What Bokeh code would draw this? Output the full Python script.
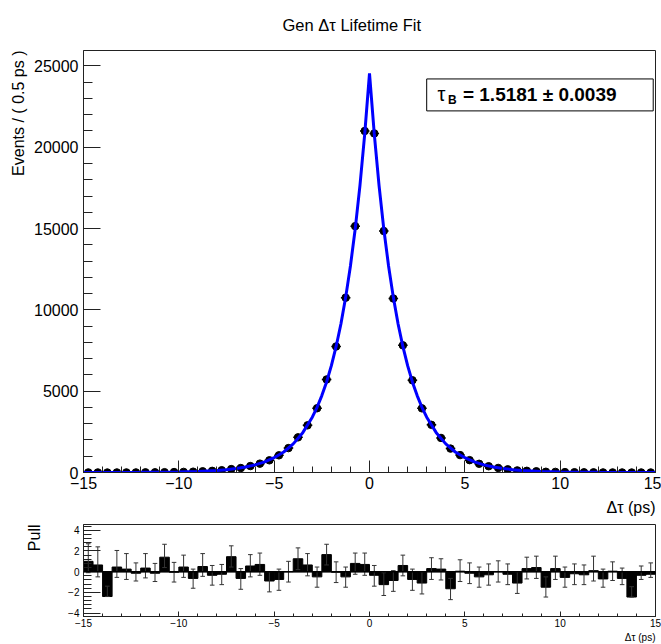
import numpy as np
from bokeh.plotting import figure
from bokeh.layouts import column
from bokeh.models import FixedTicker, Range1d, Label, BoxAnnotation, Span, Title
from bokeh.embed import file_html
from bokeh.resources import INLINE

# ---------------- data ----------------
bin_lo, bin_hi, n_bins = -15.0, 15.0, 60

counts = [3, 2, 0, 3, 5, 5, 9, 12, 19, 26, 38, 50, 74, 100, 140, 210, 275, 395, 545, 750,
          1055, 1500, 2160, 2900, 3950, 5720, 7750, 10750, 15150, 21000,
          20850, 14850, 10700, 7820, 5670, 3945, 2930, 2125, 1470, 1070, 760, 535, 385, 280, 195,
          128, 103, 75, 45, 38, 24, 17, 12, 9, 5, 4, 2, 0, 2, 1]

curve_x = [-15, -14, -13, -12, -11, -10, -9, -8, -7.5, -7, -6.5, -6, -5.5, -5, -4.5, -4, -3.5,
           -3, -2.75, -2.5, -2.25, -2, -1.75, -1.5, -1.25, -1, -0.75, -0.5, -0.25, 0,
           0.25, 0.5, 0.75, 1, 1.25, 1.5, 1.75, 2, 2.25, 2.5, 2.75, 3, 3.5, 4, 4.5, 5,
           5.5, 6, 6.5, 7, 7.5, 8, 9, 10, 11, 12, 13, 14, 15]
curve_y = [1.2, 2.4, 4.7, 9, 17, 34, 65, 126, 175, 245, 340, 470, 655, 910, 1260, 1760, 2450,
           3400, 4010, 4730, 5570, 6570, 7750, 9130, 10770, 12700, 14970, 17660, 20820, 24550,
           20820, 17660, 14970, 12700, 10770, 9130, 7750, 6570, 5570, 4730, 4010, 3400, 2450, 1760, 1260, 910,
           655, 470, 340, 245, 175, 126, 65, 34, 17, 9, 4.7, 2.4, 1.2]

pulls = [1.0, 0.65, -2.4, 0.45, 0.25, -0.15, 0.35, -0.15, 1.4, -0.05,
         0.45, -0.65, 0.5, -0.35, -0.25, 1.45, -0.65, 0.55, 0.7, -0.9,
         -0.75, 0.0, 1.25, 0.65, -0.5, 1.65, -0.05, -0.5, 0.8, 0.7,
         -0.35, -1.25, -0.85, 0.6, -0.75, -1.1, 0.3, 0.25, -1.65, 0.05,
         -0.15, -0.5, -0.3, 0.0, -0.25, -1.1, 0.3, 0.4, -1.5, 0.3,
         -0.55, -0.2, -0.3, 0.1, -0.7, 0.05, -0.65, -2.45, -0.35, -0.25]
pull_err_hi = [1.7, 1.75, 1.0, 1.6, 1.5, 1.0, 1.4, 0.95, 1.25, 0.95,
               1.15, 0.9, 1.25, 0.95, 0.95, 1.05, 0.95, 1.1, 1.1, 0.9,
               1.0, 1.0, 1.05, 1.1, 0.95, 1.0, 1.0, 0.95, 1.0, 1.1,
               0.95, 1.15, 0.95, 1.0, 1.0, 1.1, 1.05, 1.0, 1.0, 1.1,
               1.0, 0.95, 1.05, 1.05, 1.0, 1.1, 1.1, 1.1, 1.0, 1.2,
               1.0, 0.95, 0.95, 1.4, 0.95, 0.9, 1.0, 1.0, 0.9, 1.1]
pull_err_lo = [1.1, 1.15, 0.0, 1.0, 1.0, 0.75, 0.95, 0.8, 1.0, 0.95,
               1.0, 0.95, 0.95, 0.95, 1.0, 1.0, 1.05, 1.05, 1.05, 1.05,
               1.05, 1.0, 1.05, 1.05, 1.0, 1.0, 1.0, 1.0, 1.05, 1.05,
               1.05, 1.05, 1.05, 1.0, 1.05, 1.05, 1.05, 1.05, 1.05, 1.0,
               1.0, 1.0, 1.0, 1.0, 1.0, 1.0, 1.0, 1.05, 0.95, 1.05,
               0.95, 1.05, 0.95, 1.0, 0.8, 0.9, 0.6, 0.0, 0.4, 0.3]

x_ticks = [-15, -10, -5, 0, 5, 10, 15]
y_ticks_top = [0, 5000, 10000, 15000, 20000, 25000]
y_ticks_pull = [-4, -2, 0, 2, 4]

# ---------------- derived ----------------
edges = np.linspace(bin_lo, bin_hi, n_bins + 1)
centers = 0.5 * (edges[:-1] + edges[1:])
half = 0.5 * (edges[1] - edges[0])
cnt = np.array(counts, dtype=float)
err = np.sqrt(cnt)
pl = np.array(pulls)
phi = np.array(pull_err_hi)
plo = np.array(pull_err_lo)

FONT = "Liberation Sans"
AX = "#222222"


def minus_overrides(ticks):
    d = {}
    for t in ticks:
        if t < 0:
            d[t] = "\u2212" + str(abs(t))
    return d


def style_axis(ax, ticks, minors, size, tin, tmin):
    ax.ticker = FixedTicker(ticks=ticks, minor_ticks=minors)
    ax.major_label_overrides = minus_overrides(ticks)
    ax.major_label_text_font = FONT
    ax.major_label_text_font_size = size
    ax.major_label_text_color = "black"
    ax.axis_line_color = AX
    ax.major_tick_line_color = AX
    ax.minor_tick_line_color = AX
    ax.major_tick_in = tin
    ax.major_tick_out = 0
    ax.minor_tick_in = tmin
    ax.minor_tick_out = 0


def text_title(text, size, align="right", standoff=10):
    return Title(text=text, align=align, text_font=FONT, text_font_style="normal",
                 text_font_size=size, text_color="black", standoff=standoff)


# ---------------- top panel ----------------
p = figure(width=661, height=520, x_range=Range1d(bin_lo, bin_hi), y_range=Range1d(0, 25950),
           output_backend="svg", toolbar_location=None,
           min_border_left=83, min_border_right=6, min_border_top=50, min_border_bottom=47)
p.background_fill_color = "white"
p.border_fill_color = "white"
p.outline_line_color = AX
p.xgrid.visible = False
p.ygrid.visible = False

p.title.text = "Gen \u0394\u03c4 Lifetime Fit"
p.title.text_font = FONT
p.title.text_font_style = "normal"
p.title.text_font_size = "16.5px"
p.title.text_color = "black"
p.title.align = "left"
p.title.offset = 199
p.title.vertical_align = "top"
p.title.standoff = 29

style_axis(p.xaxis[0], x_ticks, list(range(-15, 16)), "16px", 12, 6)
style_axis(p.yaxis[0], y_ticks_top, list(range(0, 26000, 1000)), "16px", 17, 9)
p.xaxis.major_label_standoff = 4
p.yaxis.major_label_standoff = 5

p.add_layout(text_title("\u0394\u03c4 (ps)", "16px"), "below")
p.add_layout(text_title("Events / ( 0.5 ps )", "16px"), "left")

p.segment(x0=centers - half, x1=centers + half, y0=cnt, y1=cnt, line_color="black", line_width=1.5)
p.segment(x0=centers, x1=centers, y0=cnt - err, y1=cnt + err, line_color="black", line_width=1.5)
p.scatter(x=centers, y=cnt, size=7.5, marker="circle", fill_color="black", line_color="black")
p.line(x=curve_x, y=curve_y, line_color="#0000ff", line_width=3)

box = BoxAnnotation(left=3.0, right=14.88, bottom=22236, top=24201, fill_color="white", fill_alpha=1.0,
                    line_color="black", line_width=1, line_alpha=1.0)
p.add_layout(box)
p.add_layout(Label(x=3.57, y=23280, text="\u03c4", text_font=FONT, text_font_size="20px",
                   text_baseline="middle", text_align="left", text_color="black"))
p.add_layout(Label(x=4.12, y=22900, text="B", text_font=FONT, text_font_size="12px", text_font_style="bold",
                   text_baseline="middle", text_align="left", text_color="black"))
p.add_layout(Label(x=4.9, y=23219, text="=  1.5181 \u00b1 0.0039", text_font=FONT, text_font_size="19px",
                   text_font_style="bold", text_baseline="middle", text_align="left", text_color="black"))

# ---------------- pull panel ----------------
q = figure(width=661, height=124, x_range=p.x_range, y_range=Range1d(-4.33, 4.56),
           output_backend="svg", toolbar_location=None,
           min_border_left=83, min_border_right=6, min_border_top=4, min_border_bottom=28)
q.background_fill_color = "white"
q.border_fill_color = "white"
q.outline_line_color = AX
q.xgrid.visible = False
q.ygrid.visible = False
style_axis(q.xaxis[0], x_ticks, list(range(-15, 16)), "10px", 5, 3)
style_axis(q.yaxis[0], y_ticks_pull, [round(-4.4 + 0.4 * i, 2) for i in range(23)], "10px", 17, 8)
q.xaxis.major_label_standoff = 2
q.yaxis.major_label_standoff = 4
q.add_layout(text_title("\u0394\u03c4 (ps)", "10px", standoff=0), "below")
q.add_layout(text_title("Pull", "16px", standoff=46), "left")

q.vbar(x=centers, width=2 * half, bottom=0, top=pl, fill_color="black", line_color="black", line_width=1)
q.add_layout(Span(location=0, dimension="width", line_color="black", line_width=1.5))
q.segment(x0=centers, x1=centers, y0=pl - plo, y1=pl + phi, line_color="#333333", line_width=1)
q.segment(x0=centers - 0.12, x1=centers + 0.12, y0=pl + phi, y1=pl + phi, line_color="#333333", line_width=1)
q.segment(x0=centers - 0.12, x1=centers + 0.12, y0=pl - plo, y1=pl - plo, line_color="#333333", line_width=1)

layout = column(p, q, spacing=0)
open("out.html", "w").write(file_html(layout, INLINE))
